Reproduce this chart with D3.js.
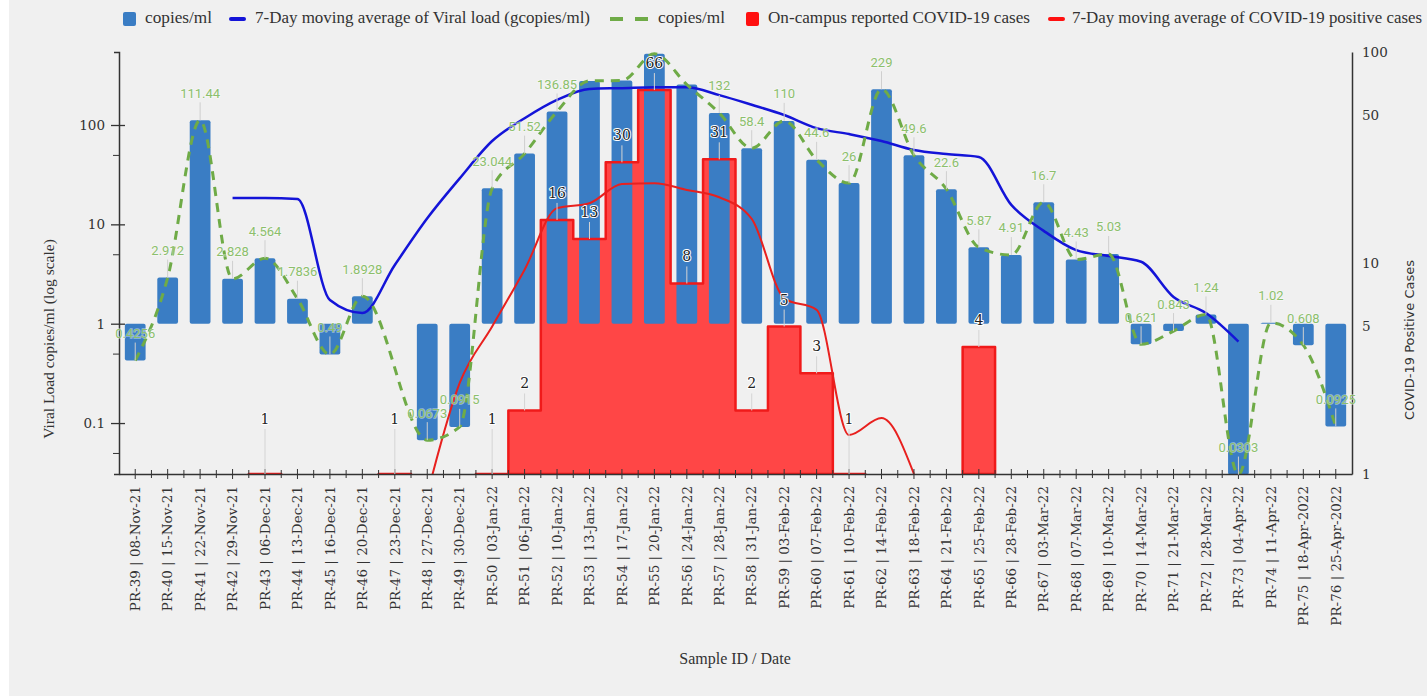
<!DOCTYPE html>
<html lang="en">
<head>
<meta charset="UTF-8">
<title>Viral load and on-campus COVID-19 cases</title>
<script src="https://cdn.jsdelivr.net/npm/d3@7"></script>
<style>
  html, body { margin: 0; padding: 0; background: #fff; }
  svg { display: block; }
</style>
</head>
<body>
<script>
// ---- data ----
const sampleIds = ["PR-39","PR-40","PR-41","PR-42","PR-43","PR-44","PR-45","PR-46","PR-47","PR-48",
  "PR-49","PR-50","PR-51","PR-52","PR-53","PR-54","PR-55","PR-56","PR-57","PR-58",
  "PR-59","PR-60","PR-61","PR-62","PR-63","PR-64","PR-65","PR-66","PR-67","PR-68",
  "PR-69","PR-70","PR-71","PR-72","PR-73","PR-74","PR-75","PR-76"];
const sampleDates = ["08-Nov-21","15-Nov-21","22-Nov-21","29-Nov-21","06-Dec-21","13-Dec-21","16-Dec-21","20-Dec-21","23-Dec-21","27-Dec-21",
  "30-Dec-21","03-Jan-22","06-Jan-22","10-Jan-22","13-Jan-22","17-Jan-22","20-Jan-22","24-Jan-22","28-Jan-22","31-Jan-22",
  "03-Feb-22","07-Feb-22","10-Feb-22","14-Feb-22","18-Feb-22","21-Feb-22","25-Feb-22","28-Feb-22","03-Mar-22","07-Mar-22",
  "10-Mar-22","14-Mar-22","21-Mar-22","28-Mar-22","04-Apr-22","11-Apr-22","18-Apr-2022","25-Apr-2022"];

// copies/ml (bars + dashed line)
const copiesPerMl = [0.4256, 2.912, 111.44, 2.828, 4.564, 1.7836, 0.49, 1.8928, null, 0.0673,
  0.0915, 23.044, 51.52, 136.85, 278, 280, 520, 255, 132, 58.4,
  110, 44.6, 26, 229, 49.6, 22.6, 5.87, 4.91, 16.7, 4.43,
  5.03, 0.621, 0.843, 1.24, 0.0303, 1.02, 0.608, 0.0925];
// labels that the chart hid behind other labels
const hiddenCopyLabels = ["PR-53", "PR-54", "PR-55", "PR-56"];

// 7-day moving average of viral load
const viralLoadAvg = [null, null, null, 18.4, 18.4, 18, 1.73, 1.28, 3.9, 11.5,
  29, 69, 117, 179, 231, 235, 240, 240, 200, 160,
  126, 93, 81, 69, 56, 51, 47.7, 15.7, 8.6, 5.5,
  4.8, 4.2, 1.86, 1.28, 0.66, null, null, null];

// on-campus reported cases
const campusCases = [null, null, null, null, 1, null, null, null, 1, null,
  null, 1, 2, 16, 13, 30, 66, 8, 31, 2,
  5, 3, 1, null, null, null, 4, null, null, null,
  null, null, null, null, null, null, null, null];

// 7-day moving average of positive cases
const casesAvg = [null, null, null, null, null, null, null, null, null, 0.8,
  2.7, 5, 9.3, 18.2, 19.2, 23.7, 23.9, 22.2, 20.5, 16.2,
  6.8, 6.0, 1.53, 1.84, 1.0, null, null, null, null, null,
  null, null, null, null, null, null, null, null];

const leftTicks = [0.1, 1, 10, 100];
const leftMinorTicks = [0.05, 0.5, 5, 50];
const rightTicks = [1, 5, 10, 50, 100];

// ---- layout ----
const width = 1427;
const height = 696;
const marginTop = 52;
const marginBottom = 222;
const marginLeft = 119;
const marginRight = 75;
const plotBottom = height - marginBottom;

const serif = "'DejaVu Serif', serif";
const legendFont = "'Liberation Serif', serif";

const svg = d3.select("body").append("svg")
  .attr("width", width)
  .attr("height", height)
  .attr("viewBox", [0, 0, width, height]);

svg.append("rect")
  .attr("x", 9).attr("y", 0)
  .attr("width", width - 9).attr("height", height)
  .attr("fill", "#f0f0f0");

const x = d3.scaleBand()
  .domain(sampleIds)
  .range([marginLeft, width - marginRight])
  .padding(0);
const bw = x.bandwidth();
const cx = id => x(id) + bw / 2;
const barW = bw * 0.64;

const yL = d3.scaleLog()
  .domain([0.0307, 543])
  .range([plotBottom, marginTop]);

const yR = d3.scaleLog()
  .domain([1, 100])
  .range([plotBottom, marginTop]);

svg.append("clipPath").attr("id", "plot")
  .append("rect")
  .attr("x", marginLeft).attr("y", marginTop)
  .attr("width", width - marginRight - marginLeft)
  .attr("height", plotBottom - marginTop);

const rows = arr => sampleIds.map((id, i) => ({ id, v: arr[i] }));

// ---- red step area (cases) ----
const stepPts = [];
campusCases.forEach((v, i) => {
  const id = sampleIds[i];
  stepPts.push({ x: x(id), v }, { x: x(id) + bw, v });
});

const caseArea = d3.area()
  .defined(d => d.v != null)
  .x(d => d.x)
  .y0(yR(1))
  .y1(d => yR(d.v));

const plot = svg.append("g").attr("clip-path", "url(#plot)");

plot.append("path")
  .datum(stepPts)
  .attr("fill", "#ff4646")
  .attr("d", caseArea);

// ---- blue bars ----
plot.append("g")
  .selectAll("rect")
  .data(rows(copiesPerMl).filter(d => d.v != null))
  .join("rect")
  .attr("x", d => cx(d.id) - barW / 2)
  .attr("y", d => Math.min(yL(d.v), yL(1)))
  .attr("width", barW)
  .attr("height", d => Math.abs(yL(d.v) - yL(1)))
  .attr("rx", 2)
  .attr("fill", "#3a7dc4");

plot.append("path")
  .datum(stepPts)
  .attr("fill", "none")
  .attr("stroke", "#f01a1a")
  .attr("stroke-width", 2.5)
  .attr("stroke-linejoin", "round")
  .attr("d", caseArea);

// ---- lines ----
const lineL = d3.line()
  .x(d => cx(d.id))
  .y(d => yL(d.v))
  .curve(d3.curveMonotoneX);
const lineR = d3.line()
  .x(d => cx(d.id))
  .y(d => yR(d.v))
  .curve(d3.curveMonotoneX);

plot.append("path")
  .datum(rows(casesAvg).filter(d => d.v != null))
  .attr("fill", "none")
  .attr("stroke", "#e8201e")
  .attr("stroke-width", 2)
  .attr("d", lineR);

plot.append("path")
  .datum(rows(viralLoadAvg).filter(d => d.v != null))
  .attr("fill", "none")
  .attr("stroke", "#1414d8")
  .attr("stroke-width", 2.5)
  .attr("d", lineL);

plot.append("path")
  .datum(rows(copiesPerMl).filter(d => d.v != null))
  .attr("fill", "none")
  .attr("stroke", "#6fab47")
  .attr("stroke-width", 3)
  .attr("stroke-dasharray", "9,7")
  .attr("d", lineL);

// ---- axes ----
const xAxis = svg.append("g")
  .attr("transform", `translate(0,${plotBottom})`)
  .call(d3.axisBottom(x)
    .tickSize(5)
    .tickSizeOuter(0)
    .tickFormat((d, i) => `${d} | ${sampleDates[i]}`));
xAxis.select(".domain").attr("stroke", "#333").attr("stroke-width", 1.5);
xAxis.selectAll(".tick line").attr("y1", -5).attr("stroke", "#333");
xAxis.selectAll(".tick text")
  .attr("transform", "rotate(-90)")
  .attr("text-anchor", "end")
  .attr("x", -12)
  .attr("y", 0)
  .attr("dy", "0.35em")
  .attr("font-family", serif)
  .attr("font-size", 13.5)
  .attr("fill", "#333");
xAxis.append("g")
  .selectAll("line")
  .data(sampleIds.slice(1))
  .join("line")
  .attr("x1", d => x(d)).attr("x2", d => x(d))
  .attr("y1", -4).attr("y2", 4)
  .attr("stroke", "#333");

const leftAxis = svg.append("g")
  .attr("transform", `translate(${marginLeft},0)`)
  .call(d3.axisLeft(yL)
    .tickValues(leftTicks)
    .tickFormat(d3.format("~g"))
    .tickSize(8)
    .tickSizeOuter(5)
    .tickPadding(6));
leftAxis.select(".domain").attr("stroke", "#333").attr("stroke-width", 1.5);
leftAxis.selectAll(".tick line").attr("x1", 6).attr("stroke", "#333").attr("stroke-width", 1.3);
leftAxis.selectAll(".tick text")
  .attr("font-family", serif)
  .attr("font-size", 13.5)
  .attr("fill", "#333");

svg.append("g")
  .attr("transform", `translate(${marginLeft},0)`)
  .call(d3.axisLeft(yL).tickValues(leftMinorTicks).tickFormat("").tickSize(6))
  .call(g => g.select(".domain").remove())
  .selectAll(".tick line").attr("stroke", "#333");

const rightAxis = svg.append("g")
  .attr("transform", `translate(${width - marginRight},0)`)
  .call(d3.axisRight(yR)
    .tickValues(rightTicks)
    .tickFormat(d3.format("~g"))
    .tickSize(0)
    .tickSizeOuter(0)
    .tickPadding(10));
rightAxis.select(".domain").attr("stroke", "#333").attr("stroke-width", 1.5);
rightAxis.selectAll(".tick text")
  .attr("font-family", serif)
  .attr("font-size", 13.5)
  .attr("fill", "#333");

// ---- data labels ----
const labels = svg.append("g");

const copyRows = rows(copiesPerMl).filter(d => d.v != null && !hiddenCopyLabels.includes(d.id));
labels.append("g")
  .selectAll("line")
  .data(copyRows)
  .join("line")
  .attr("x1", d => cx(d.id)).attr("x2", d => cx(d.id))
  .attr("y1", d => yL(d.v) - 18).attr("y2", d => yL(d.v))
  .attr("stroke", "#cfcfcf").attr("stroke-width", 1);
labels.append("g")
  .selectAll("text")
  .data(copyRows)
  .join("text")
  .attr("x", d => cx(d.id))
  .attr("y", d => yL(d.v) - 26)
  .attr("text-anchor", "middle")
  .attr("dominant-baseline", "middle")
  .attr("font-family", "Roboto, sans-serif")
  .attr("font-size", 13)
  .attr("fill", "#8cbf6c")
  .attr("stroke", "rgba(255,255,255,0.45)")
  .attr("stroke-width", 1.6)
  .attr("paint-order", "stroke")
  .text(d => String(d.v));

const caseRows = rows(campusCases).filter(d => d.v != null);
const caseOffset = v => (v <= 1 ? 54 : 26);
labels.append("g")
  .selectAll("line")
  .data(caseRows)
  .join("line")
  .attr("x1", d => cx(d.id)).attr("x2", d => cx(d.id))
  .attr("y1", d => yR(d.v) - caseOffset(d.v) + 9).attr("y2", d => yR(d.v))
  .attr("stroke", "#d4d4d4").attr("stroke-width", 1);
labels.append("g")
  .selectAll("text")
  .data(caseRows)
  .join("text")
  .attr("x", d => cx(d.id))
  .attr("y", d => yR(d.v) - caseOffset(d.v))
  .attr("text-anchor", "middle")
  .attr("dominant-baseline", "middle")
  .attr("font-family", serif)
  .attr("font-size", 14)
  .attr("fill", "#222")
  .attr("stroke", "#fff")
  .attr("stroke-width", 2)
  .attr("stroke-linejoin", "round")
  .attr("paint-order", "stroke")
  .text(d => d.v);

// ---- titles ----
svg.append("text")
  .attr("transform", `translate(50,339) rotate(-90)`)
  .attr("text-anchor", "middle")
  .attr("dominant-baseline", "middle")
  .attr("font-family", legendFont)
  .attr("font-size", 15.5)
  .attr("fill", "#333")
  .text("Viral Load copies/ml (log scale)");

svg.append("text")
  .attr("transform", `translate(1410,340) rotate(-90)`)
  .attr("text-anchor", "middle")
  .attr("dominant-baseline", "middle")
  .attr("font-family", "'DejaVu Sans', sans-serif")
  .attr("font-size", 13)
  .attr("fill", "#333")
  .text("COVID-19 Positive Cases");

svg.append("text")
  .attr("x", 735).attr("y", 660)
  .attr("text-anchor", "middle")
  .attr("dominant-baseline", "middle")
  .attr("font-family", legendFont)
  .attr("font-size", 16)
  .attr("fill", "#333")
  .text("Sample ID / Date");

// ---- legend ----
const legendItems = [
  { label: "copies/ml", kind: "rect", color: "#3a7dc4", mx: 123, tx: 145, tw: 67 },
  { label: "7-Day moving average of Viral load (gcopies/ml)", kind: "line", color: "#1414d8", mx: 231, tx: 255, tw: 335 },
  { label: "copies/ml", kind: "dash", color: "#6fab47", mx: 610, tx: 658, tw: 67 },
  { label: "On-campus reported COVID-19 cases", kind: "rect", color: "#ff1010", mx: 746, tx: 768, tw: 262 },
  { label: "7-Day moving average of COVID-19 positive cases", kind: "line", color: "#ff1010", mx: 1050, tx: 1072, tw: 350 }
];
const legendY = 19;
const legend = svg.append("g");
legendItems.forEach(it => {
  if (it.kind === "rect") {
    legend.append("rect")
      .attr("x", it.mx).attr("y", legendY - 7)
      .attr("width", 13).attr("height", 14)
      .attr("rx", 2)
      .attr("fill", it.color);
  } else if (it.kind === "line") {
    legend.append("line")
      .attr("x1", it.mx).attr("x2", it.mx + 13)
      .attr("y1", legendY).attr("y2", legendY)
      .attr("stroke", it.color).attr("stroke-width", 4).attr("stroke-linecap", "round");
  } else {
    legend.append("line")
      .attr("x1", it.mx).attr("x2", it.mx + 38)
      .attr("y1", legendY).attr("y2", legendY)
      .attr("stroke", it.color).attr("stroke-width", 4)
      .attr("stroke-dasharray", "13,12");
  }
  legend.append("text")
    .attr("x", it.tx).attr("y", legendY)
    .attr("dominant-baseline", "middle")
    .attr("font-family", legendFont)
    .attr("font-size", 16)
    .attr("fill", "#333")
    .attr("textLength", it.tw)
    .attr("lengthAdjust", "spacingAndGlyphs")
    .text(it.label);
});
</script>
</body>
</html>
